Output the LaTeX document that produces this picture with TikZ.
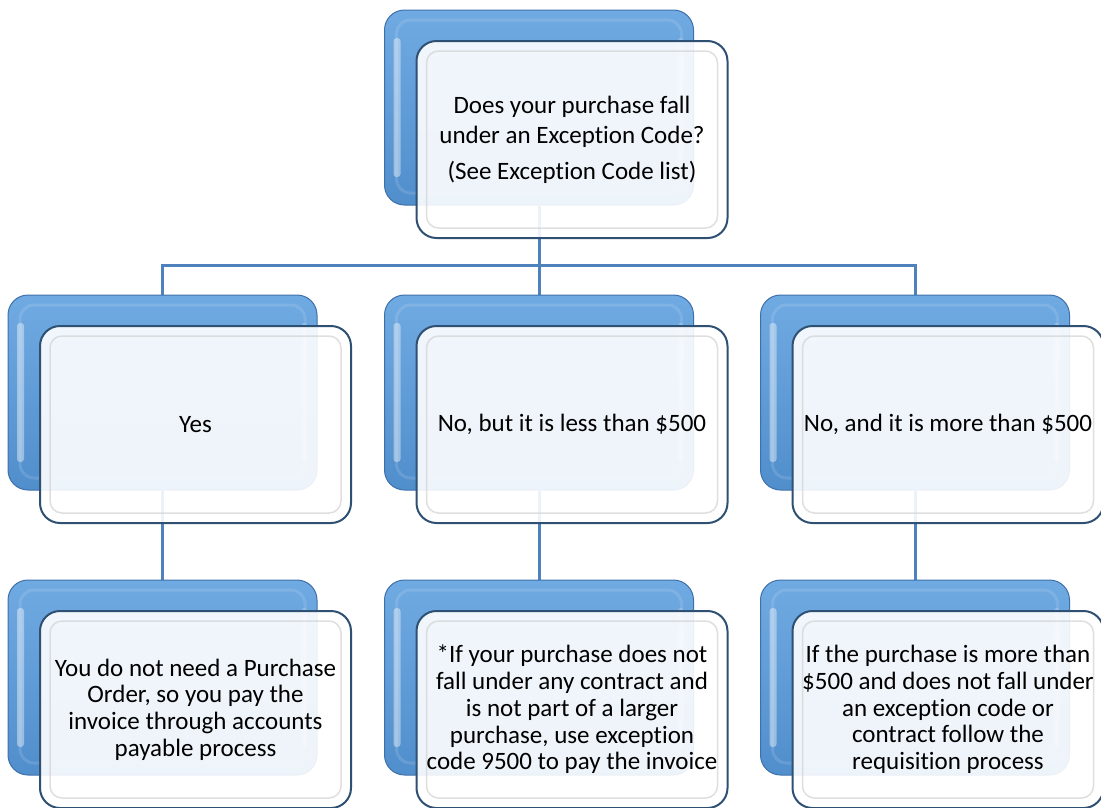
\documentclass[tikz,border=0pt]{standalone}
\usepackage{fontspec}
\setmainfont{Carlito}[Ligatures={NoCommon,NoContextual}]
\usetikzlibrary{backgrounds}
\definecolor{backtop}{RGB}{112,170,226}
\definecolor{backbottom}{RGB}{80,142,204}
\definecolor{backrim}{RGB}{62,112,170}
\definecolor{frontrim}{RGB}{45,80,115}
\definecolor{linkblue}{RGB}{79,129,189}
\begin{document}
\begin{tikzpicture}[x=1pt, y=1pt,
    backbox/.style={rounded corners=20pt, minimum width=309pt, minimum height=195pt,
        draw=backrim, line width=1pt, top color=backtop, bottom color=backbottom,
        path picture={
            \draw[white, opacity=.12, line width=3pt, rounded corners=14pt]
                ([shift={(12pt,-10pt)}]path picture bounding box.north west) rectangle
                ([shift={(-12pt,12pt)}]path picture bounding box.south east);
            \fill[white, opacity=.4, rounded corners=3pt]
                ([shift={(9pt,-28pt)}]path picture bounding box.north west) rectangle
                ([shift={(16pt,28pt)}]path picture bounding box.south west);
            \fill[white, opacity=.2, rounded corners=3pt]
                ([shift={(-16pt,-28pt)}]path picture bounding box.north east) rectangle
                ([shift={(-10pt,28pt)}]path picture bounding box.south east);
        }},
    frontbox/.style={rounded corners=20pt, minimum width=311pt, minimum height=197pt,
        draw=frontrim, line width=2pt, fill=white, fill opacity=.9, text opacity=1,
        align=center, font=\fontsize{25}{26.7}\selectfont,
        path picture={
            \draw[gray!35, opacity=.7, line width=1.5pt, rounded corners=12pt]
                ([shift={(10pt,-10pt)}]path picture bounding box.north west) rectangle
                ([shift={(-10pt,10pt)}]path picture bounding box.south east);
        }},
    link/.style={draw=linkblue, line width=3pt}]
    \useasboundingbox (0,0) rectangle (1101,-807);

    % ===== question =====
    \node[backbox] (q-back) at (539,-107.5) {};
    \node[frontbox] (q) at ([shift={(33,-32)}]q-back.center)
        {Does your purchase fall\\[3.3pt]under an Exception Code?\\[9.3pt](See Exception Code list)};

    % ===== answers =====
    \node[backbox] (yes-back) at (162.5,-392.5) {};
    \node[frontbox] (yes) at ([shift={(33,-32)}]yes-back.center) {Yes};

    \node[backbox] (under-back) at (539,-392.5) {};
    \node[frontbox] (under) at ([shift={(33,-32)}]under-back.center) {No, but it is less than \$500};

    \node[backbox] (over-back) at (915,-392.5) {};
    \node[frontbox] (over) at ([shift={(33,-32)}]over-back.center) {No, and it is more than \$500};

    % ===== what to do =====
    \node[backbox] (yes-note-back) at (162.5,-677.5) {};
    \node[frontbox] (yes-note) at ([shift={(33,-32)}]yes-note-back.center)
        {You do not need a Purchase\\Order, so you pay the\\invoice through accounts\\payable process};

    \node[backbox] (under-note-back) at (539,-677.5) {};
    \node[frontbox] (under-note) at ([shift={(33,-32)}]under-note-back.center)
        {*If your purchase does not\\fall under any contract and\\is not part of a larger\\purchase, use exception\\code 9500 to pay the invoice};

    \node[backbox] (over-note-back) at (915,-677.5) {};
    \node[frontbox] (over-note) at ([shift={(33,-32)}]over-note-back.center)
        {If the purchase is more than\\\$500 and does not fall under\\an exception code or\\contract follow the\\requisition process};

    % ===== connectors (behind the boxes) =====
    \begin{scope}[on background layer]
        \draw[link] (q-back.south) -- ++(0,-60) -| (yes-back.north);
        \draw[link] (q-back.south) -- (under-back.north);
        \draw[link] (q-back.south) -- ++(0,-60) -| (over-back.north);
        \draw[link] (yes-back.south) -- (yes-note-back.north);
        \draw[link] (under-back.south) -- (under-note-back.north);
        \draw[link] (over-back.south) -- (over-note-back.north);
    \end{scope}
\end{tikzpicture}
\end{document}
